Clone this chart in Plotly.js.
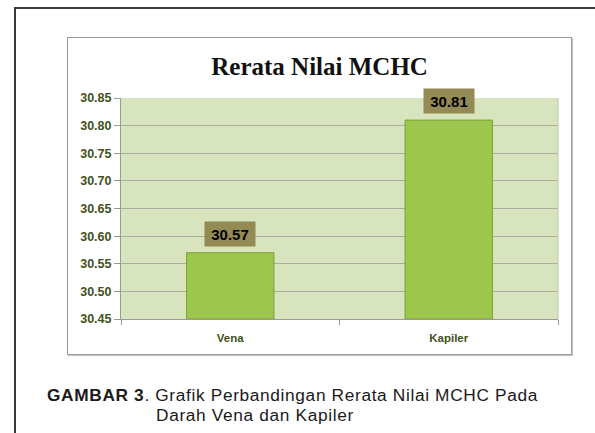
<!DOCTYPE html>
<html>
<head>
<meta charset="utf-8">
<script src="https://cdn.plot.ly/plotly-3.0.1.min.js"></script>
<style>
  html, body { margin:0; padding:0; background:#ffffff; }
  #wrap { position:relative; width:595px; height:433px; overflow:hidden; background:#fff; }
  #frameTop { position:absolute; left:14px; top:7px; width:581px; height:2px; background:#3a3a3a; }
  #frameLeft { position:absolute; left:14px; top:7px; width:2px; height:426px; background:#3a3a3a; }
  #box { position:absolute; left:67px; top:37px; width:503px; height:316px; border:1px solid #9a9a9a; box-shadow:1px 1px 1px #c8c8c8; background:#fff; }
  #chart { position:absolute; left:0; top:0; width:595px; height:433px; }
  .cap { position:absolute; font-family:"Liberation Sans", Arial, sans-serif; font-size:17.3px; letter-spacing:0.65px; color:#1a1a1a; white-space:nowrap; line-height:20px; }
</style>
</head>
<body>
<div id="wrap">
  <div id="frameTop"></div>
  <div id="frameLeft"></div>
  <div id="box"></div>
  <div id="chart"></div>
  <div class="cap" id="cap1" style="left:47px; top:385px;"><b>GAMBAR 3</b>. Grafik Perbandingan Rerata Nilai MCHC Pada</div>
  <div class="cap" id="cap2" style="left:156px; top:405px;">Darah Vena dan Kapiler</div>
</div>
<script>
const categories = ["Vena", "Kapiler"];
const values = [30.57, 30.81];
const valueLabels = ["30.57", "30.81"];
const chartTitle = "Rerata Nilai MCHC";
const axisMin = 30.45;

const trace = {
  type: "bar",
  x: categories,
  y: values.map(v => v - axisMin),
  base: axisMin,
  marker: { color: "#9dc64c", line: { color: "#7f9f3c", width: 1 } },
  hoverinfo: "none"
};

const annotations = categories.map((c, i) => ({
  x: c, y: values[i], xref: "x", yref: "y",
  text: "<b>" + valueLabels[i] + "</b>",
  showarrow: false,
  yanchor: "bottom",
  yshift: 6,
  bgcolor: "#948a54",
  borderpad: 3,
  width: 44,
  height: 18,
  font: { family: "Liberation Sans, Arial, sans-serif", size: 15, color: "#000" }
}));

const layout = {
  width: 595, height: 433,
  margin: { l: 121, r: 37, t: 98, b: 114, pad: 0 },
  paper_bgcolor: "rgba(0,0,0,0)",
  plot_bgcolor: "#d7e4bd",
  showlegend: false,
  bargap: 0.6,
  title: {
    text: "<b>" + chartTitle + "</b>",
    font: { family: "Liberation Serif, Times New Roman, serif", size: 25, color: "#111" },
    xref: "container", yref: "container",
    x: 319.6 / 595, y: 1 - 66 / 433,
    xanchor: "center", yanchor: "middle"
  },
  xaxis: {
    type: "category",
    showline: true, linecolor: "#9a9a9a", linewidth: 1,
    ticks: "outside", tickson: "boundaries", ticklen: 5, tickcolor: "#9a9a9a",
    tickfont: { family: "Liberation Sans, Arial, sans-serif", size: 11.5, color: "#3f5220", weight: "bold" },
    showgrid: false,
    ticklabelstandoff: 8,
    fixedrange: true
  },
  yaxis: {
    range: [30.45, 30.85],
    dtick: 0.05, tick0: 30.45,
    tickformat: ".2f",
    showline: true, linecolor: "#9a9a9a", linewidth: 1, mirror: false,
    ticks: "outside", ticklen: 6, tickcolor: "#9a9a9a",
    showgrid: true, gridcolor: "#a8ad9c", gridwidth: 1,
    zeroline: false,
    tickfont: { family: "Liberation Sans, Arial, sans-serif", size: 12.5, color: "#3f5220", weight: "bold" },
    fixedrange: true
  },
  shapes: [
    { type: "line", xref: "paper", yref: "paper", x0: 1, x1: 1, y0: 0, y1: 1,
      line: { color: "#b9c9a0", width: 1 } }
  ],
  annotations: annotations
};

Plotly.newPlot("chart", [trace], layout, { displayModeBar: false, staticPlot: true });
</script>
</body>
</html>
